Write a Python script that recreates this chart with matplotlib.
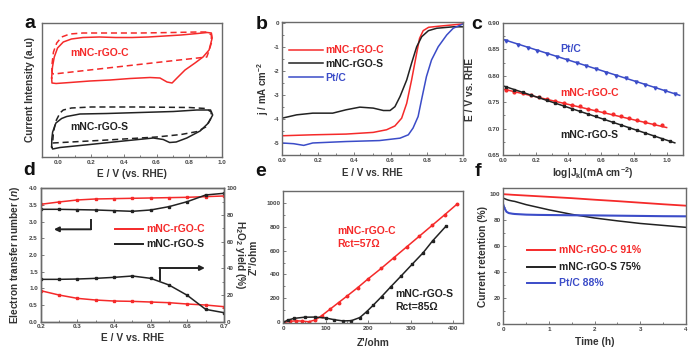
import matplotlib
matplotlib.use('Agg')
import matplotlib.pyplot as plt
from matplotlib.ticker import MultipleLocator, FormatStrFormatter

plt.rcParams['font.family'] = ['Liberation Sans', 'DejaVu Sans']
plt.rcParams['font.weight'] = 'bold'
plt.rcParams['axes.unicode_minus'] = False
plt.rcParams['mathtext.fontset'] = 'custom'
plt.rcParams['mathtext.rm'] = 'Liberation Sans:bold'
plt.rcParams['mathtext.it'] = 'Liberation Sans:bold:italic'
plt.rcParams['mathtext.bf'] = 'Liberation Sans:bold'
plt.rcParams['mathtext.default'] = 'rm'

RED = '#F52A2A'
BLK = '#222222'
BLU = '#3B4CC8'
SPINE = '#6a6a6a'
TICKC = '#444444'

# ---------------- data ----------------
# (a) CV loops, arbitrary current units
cv_c_solid_E = [-0.041, -0.036, -0.025, -0.005, 0.03, 0.08, 0.15, 0.25, 0.35, 0.45, 0.55, 0.65, 0.75, 0.85, 0.91, 0.935, 0.94,
                0.921, 0.884, 0.835, 0.774, 0.725, 0.695, 0.664, 0.621, 0.56, 0.438, 0.316, 0.193, 0.071, -0.014, -0.039, -0.041]
cv_c_solid_I = [7.9, 9.0, 10.0, 10.9, 11.5, 11.8, 11.95, 12.0, 11.95, 11.95, 12.0, 12.1, 12.2, 12.35, 12.45, 12.4, 11.9,
                10.7, 10.0, 9.4, 8.7, 7.9, 7.4, 7.5, 7.9, 7.95, 7.85, 7.7, 7.6, 7.45, 7.35, 7.4, 7.9]
cv_c_dash_E = [-0.035, -0.04, -0.038, -0.03, -0.01, 0.02, 0.07, 0.15, 0.3, 0.5, 0.7, 0.85, 0.91, 0.935, 0.935, 0.92, 0.907,
               0.6, 0.3, 0.0, -0.035]
cv_c_dash_I = [8.3, 8.6, 9.4, 10.5, 11.4, 12.0, 12.3, 12.4, 12.4, 12.4, 12.45, 12.5, 12.5, 12.2, 11.4, 10.6, 10.0,
               9.45, 8.9, 8.35, 8.3]
cv_s_solid_E = [-0.041, -0.04, -0.035, -0.015, 0.02, 0.051, 0.132, 0.296, 0.499, 0.703, 0.846, 0.93, 0.943, 0.917, 0.866,
                0.785, 0.72, 0.68, 0.641, 0.58, 0.397, 0.193, 0.01, -0.035, -0.041]
cv_s_solid_I = [1.0, 1.8, 2.5, 3.4, 3.85, 4.05, 4.3, 4.35, 4.45, 4.55, 4.7, 4.7, 4.2, 3.4, 2.6,
                1.9, 1.5, 1.45, 1.75, 1.9, 1.6, 1.25, 0.95, 0.8, 1.0]
cv_s_dash_E = [-0.035, 0.3, 0.6, 0.75, 0.85, 0.9, 0.93, 0.935, 0.9, 0.8, 0.5, 0.2, 0.08, 0.03, 0.01, -0.015, -0.03, -0.035]
cv_s_dash_I = [1.4, 1.7, 2.0, 2.25, 2.55, 3.0, 3.8, 4.5, 4.85, 4.95, 5.0, 5.0, 4.9, 4.7, 4.4, 3.6, 2.5, 1.4]

# (b) LSV
lsv_s_E = [0.0, 0.081, 0.17, 0.28, 0.354, 0.43, 0.504, 0.56, 0.597, 0.624, 0.652, 0.689, 0.716, 0.744, 0.772, 0.809, 0.855, 0.946, 1.0]
lsv_s_j = [-3.97, -3.83, -3.76, -3.76, -3.62, -3.51, -3.55, -3.65, -3.65, -3.49, -3.07, -2.38, -1.68, -1.0, -0.58, -0.33, -0.23, -0.17, -0.17]
lsv_c_E = [0.0, 0.17, 0.354, 0.504, 0.578, 0.624, 0.661, 0.689, 0.716, 0.744, 0.76, 0.78, 0.81, 0.873, 1.0]
lsv_c_j = [-4.70, -4.66, -4.63, -4.56, -4.45, -4.29, -3.97, -3.35, -2.38, -1.27, -0.65, -0.33, -0.19, -0.14, -0.05]
lsv_pt_E = [0.0, 0.064, 0.12, 0.17, 0.354, 0.538, 0.652, 0.698, 0.724, 0.752, 0.771, 0.798, 0.826, 0.863, 0.91, 0.946, 1.0]
lsv_pt_j = [-5.0, -5.03, -5.1, -5.0, -4.94, -4.9, -4.8, -4.66, -4.38, -3.9, -3.2, -2.24, -1.55, -1.0, -0.51, -0.23, -0.05]

# (c) Tafel
taf_pt_x = [0.02, 0.09, 0.15, 0.21, 0.27, 0.33, 0.39, 0.45, 0.51, 0.57, 0.63, 0.69, 0.75, 0.81, 0.87, 0.93, 0.99, 1.05]
taf_pt_y = [0.865, 0.859, 0.853, 0.847, 0.842, 0.835, 0.830, 0.824, 0.818, 0.812, 0.806, 0.800, 0.795, 0.789, 0.783, 0.777, 0.771, 0.765]
taf_pt_fit_x = [0.0, 1.08]
taf_pt_fit_y = [0.869, 0.763]
taf_c_x = [0.02, 0.07, 0.12, 0.17, 0.22, 0.27, 0.32, 0.37, 0.42, 0.47, 0.52, 0.57, 0.62, 0.67, 0.72, 0.77, 0.82, 0.87, 0.92, 0.97]
taf_c_y = [0.773, 0.770, 0.767, 0.763, 0.760, 0.756, 0.753, 0.749, 0.745, 0.742, 0.738, 0.735, 0.731, 0.727, 0.724, 0.720, 0.717, 0.713, 0.709, 0.706]
taf_c_fit_x = [0.0, 1.0]
taf_c_fit_y = [0.775, 0.702]
taf_s_x = [0.02, 0.07, 0.12, 0.17, 0.22, 0.27, 0.32, 0.37, 0.42, 0.47, 0.52, 0.57, 0.62, 0.67, 0.72, 0.77, 0.82, 0.87, 0.92, 0.97, 1.02]
taf_s_y = [0.779, 0.774, 0.769, 0.764, 0.759, 0.754, 0.749, 0.743, 0.738, 0.733, 0.728, 0.723, 0.718, 0.712, 0.707, 0.702, 0.697, 0.692, 0.686, 0.681, 0.676]
taf_s_fit_x = [0.0, 1.05]
taf_s_fit_y = [0.781, 0.673]

# (d) RRDE
rrde_E = [0.2, 0.25, 0.3, 0.35, 0.4, 0.45, 0.5, 0.55, 0.6, 0.65, 0.7]
n_c = [3.52, 3.59, 3.65, 3.68, 3.69, 3.70, 3.71, 3.72, 3.73, 3.75, 3.77]
n_s = [3.37, 3.37, 3.36, 3.35, 3.33, 3.31, 3.35, 3.45, 3.60, 3.80, 3.85]
h2o2_c = [23.25, 20.0, 17.5, 16.25, 15.5, 15.25, 14.75, 14.25, 13.25, 12.5, 11.25]
h2o2_s = [31.75, 31.75, 32.0, 32.5, 33.25, 34.25, 32.5, 27.5, 19.75, 9.25, 6.75]

# (e) Nyquist
eis_c_re = [0, 15, 30, 45, 60, 75, 90, 110, 130, 150, 175, 200, 230, 260, 290, 320, 350, 380, 409]
eis_c_im = [0, 8, 13, 10, 5, 20, 55, 110, 165, 220, 290, 365, 450, 540, 630, 720, 810, 900, 989]
eis_s_re = [0, 10, 25, 50, 75, 100, 120, 140, 160, 180, 196, 212, 231, 253, 277, 303, 329, 351, 383]
eis_s_im = [0, 18, 33, 43, 44, 36, 22, 12, 14, 40, 89, 145, 214, 298, 387, 485, 582, 680, 805]

# (f) stability
t_h = [0.0, 0.03, 0.07, 0.12, 0.2, 0.25, 0.5, 0.75, 1.0, 1.5, 2.0, 2.5, 3.0, 3.5, 4.0]
ret_c = [100.0, 100.0, 99.9, 99.8, 99.6, 99.5, 99.0, 98.5, 98.0, 97.0, 95.8, 94.7, 93.5, 92.3, 91.2]
ret_s = [97.0, 96.6, 96.0, 95.4, 94.8, 94.5, 92.0, 90.0, 88.0, 84.5, 81.7, 79.5, 77.5, 76.0, 74.5]
ret_pt = [92.0, 89.0, 86.5, 85.5, 85.0, 84.8, 84.3, 84.1, 84.0, 83.8, 83.7, 83.5, 83.3, 83.1, 83.0]

# ---------------- figure ----------------
fig = plt.figure(figsize=(7, 3.57), dpi=100)
LFS = 7.3


def style(ax):
    for s in ax.spines.values():
        s.set_color(SPINE)
        s.set_linewidth(1.0)
    ax.tick_params(which='both', direction='in', color=SPINE, labelcolor=TICKC,
                   labelsize=4.5, width=0.6, pad=2)
    ax.tick_params(which='major', length=2.5)
    ax.tick_params(which='minor', length=1.5)
    for lab in ax.get_xticklabels() + ax.get_yticklabels():
        lab.set_fontweight('bold')


def labels(ax, xl, yl, xy_x, xy_y, fs=LFS):
    ax.set_xlabel(xl, fontsize=fs, fontweight='bold', color='#333333')
    ax.set_ylabel(yl, fontsize=fs, fontweight='bold', color='#333333')
    ax.xaxis.label.set_va('center')
    ax.yaxis.label.set_va('center')
    ax.xaxis.set_label_coords(0.5, xy_x)
    ax.yaxis.set_label_coords(xy_y, 0.5)


def ax_at(x0, y0, x1, y1):
    return fig.add_axes([x0 / 700, 1 - y1 / 357, (x1 - x0) / 700, (y1 - y0) / 357])


lw = 1.1
# (a)
axa = ax_at(42, 23, 222, 157)
axa.plot(cv_c_solid_E, cv_c_solid_I, color=RED, lw=lw)
axa.plot(cv_c_dash_E, cv_c_dash_I, color=RED, lw=lw, ls=(0, (4, 2.5)))
axa.plot(cv_s_solid_E, cv_s_solid_I, color=BLK, lw=lw)
axa.plot(cv_s_dash_E, cv_s_dash_I, color=BLK, lw=lw, ls=(0, (4, 2.5)))
axa.set_xlim(-0.1, 1.0)
axa.set_ylim(0, 13.4)
axa.set_yticks([])
axa.xaxis.set_major_locator(MultipleLocator(0.2))
axa.xaxis.set_minor_locator(MultipleLocator(0.1))
axa.xaxis.set_major_formatter(FormatStrFormatter('%.1f'))
axa.text(0.07, 10.4, 'mNC-rGO-C', color=RED, fontsize=7.5, fontweight='bold', va='center')
axa.text(0.07, 3.0, 'mNC-rGO-S', color=BLK, fontsize=7.5, fontweight='bold', va='center')
style(axa)
labels(axa, 'E / V (vs. RHE)', 'Current Intensity (a.u)', -0.13, -0.067)

# (b)
axb = ax_at(282, 22, 463, 155)
axb.plot(lsv_c_E, lsv_c_j, color=RED, lw=lw, label='mNC-rGO-C')
axb.plot(lsv_s_E, lsv_s_j, color=BLK, lw=lw, label='mNC-rGO-S')
axb.plot(lsv_pt_E, lsv_pt_j, color=BLU, lw=lw, label='Pt/C')
axb.set_xlim(0, 1.0)
axb.set_ylim(-5.5, 0.03)
axb.xaxis.set_major_locator(MultipleLocator(0.2))
axb.xaxis.set_minor_locator(MultipleLocator(0.1))
axb.xaxis.set_major_formatter(FormatStrFormatter('%.1f'))
axb.yaxis.set_major_locator(MultipleLocator(1))
axb.yaxis.set_minor_locator(MultipleLocator(0.5))
leg = axb.legend(loc='upper left', bbox_to_anchor=(0.0, 0.88), frameon=False, fontsize=7.5,
                 handlelength=3.2, handletextpad=0.3, labelspacing=0.35, borderaxespad=0.3)
for t, c in zip(leg.get_texts(), [RED, BLK, BLU]):
    t.set_color(c)
    t.set_fontweight('bold')
style(axb)
labels(axb, 'E / V vs. RHE', 'j / mA cm$^{-2}$', -0.135, -0.105, fs=7.0)

# (c)
axc = ax_at(503, 23, 683, 155)
axc.plot(taf_pt_fit_x, taf_pt_fit_y, color=BLU, lw=lw)
axc.plot(taf_pt_x, taf_pt_y, 'v', color=BLU, ms=2.2)
axc.plot(taf_c_fit_x, taf_c_fit_y, color=RED, lw=lw)
axc.plot(taf_c_x, taf_c_y, 'o', color=RED, ms=2.0)
axc.plot(taf_s_fit_x, taf_s_fit_y, color=BLK, lw=lw)
axc.plot(taf_s_x, taf_s_y, 's', color=BLK, ms=1.8)
axc.set_xlim(0, 1.1)
axc.set_ylim(0.65, 0.90)
axc.xaxis.set_major_locator(MultipleLocator(0.2))
axc.xaxis.set_minor_locator(MultipleLocator(0.1))
axc.xaxis.set_major_formatter(FormatStrFormatter('%.1f'))
axc.yaxis.set_major_locator(MultipleLocator(0.05))
axc.yaxis.set_minor_locator(MultipleLocator(0.025))
axc.yaxis.set_major_formatter(FormatStrFormatter('%.2f'))
axc.text(0.35, 0.851, 'Pt/C', color=BLU, fontsize=7.5, fontweight='bold', va='center')
axc.text(0.35, 0.767, 'mNC-rGO-C', color=RED, fontsize=7.5, fontweight='bold', va='center')
axc.text(0.35, 0.688, 'mNC-rGO-S', color=BLK, fontsize=7.5, fontweight='bold', va='center')
style(axc)
labels(axc, 'log|J$_k$|(mA cm$^{-2}$)', 'E / V vs. RHE', -0.14, -0.183)

# (d)
axd = ax_at(40.7, 188.3, 224, 321.7)
axd.plot(rrde_E, n_c, color=RED, lw=lw, marker='s', ms=2.0)
axd.plot(rrde_E, n_s, color=BLK, lw=lw, marker='s', ms=2.0)
axd.set_xlim(0.2, 0.7)
axd.set_ylim(0, 4.0)
axd.xaxis.set_major_locator(MultipleLocator(0.1))
axd.xaxis.set_minor_locator(MultipleLocator(0.05))
axd.xaxis.set_major_formatter(FormatStrFormatter('%.1f'))
axd.yaxis.set_major_locator(MultipleLocator(0.5))
axd.yaxis.set_major_formatter(FormatStrFormatter('%.1f'))
axd2 = axd.twinx()
axd2.plot(rrde_E, h2o2_c, color=RED, lw=lw, marker='s', ms=2.0)
axd2.plot(rrde_E, h2o2_s, color=BLK, lw=lw, marker='s', ms=2.0)
axd2.set_ylim(0, 100)
axd2.yaxis.set_major_locator(MultipleLocator(20))
axd2.yaxis.set_minor_locator(MultipleLocator(10))
# arrows
axd.plot([0.336, 0.336], [3.05, 2.77], color=BLK, lw=1.4)
axd.annotate('', xy=(0.236, 2.77), xytext=(0.337, 2.77),
             arrowprops=dict(arrowstyle='-|>', color=BLK, lw=1.4, mutation_scale=7, shrinkA=0, shrinkB=0))
axd.plot([0.525, 0.525], [1.25, 1.61], color=BLK, lw=1.4)
axd.annotate('', xy=(0.648, 1.61), xytext=(0.524, 1.61),
             arrowprops=dict(arrowstyle='-|>', color=BLK, lw=1.4, mutation_scale=7, shrinkA=0, shrinkB=0))
# legend-like
axd.plot([0.403, 0.48], [2.78, 2.78], color=RED, lw=1.4)
axd.plot([0.403, 0.48], [2.33, 2.33], color=BLK, lw=1.4)
axd.text(0.489, 2.78, 'mNC-rGO-C', color=RED, fontsize=7.5, fontweight='bold', va='center')
axd.text(0.489, 2.33, 'mNC-rGO-S', color=BLK, fontsize=7.5, fontweight='bold', va='center')
style(axd)
style(axd2)
labels(axd, 'E / V vs. RHE', 'Electron transfer number ($\\mathit{n}$)', -0.125, -0.14)
axd2.set_ylabel('H$_2$O$_2$ yield (%)', fontsize=LFS, fontweight='bold', color='#333333', rotation=270)
axd2.yaxis.label.set_va('center')
axd2.yaxis.set_label_coords(1.085, 0.5)

# (e)
axe = ax_at(283.3, 190.7, 462.7, 323.3)
axe.plot(eis_c_re, eis_c_im, color=RED, lw=lw, marker='o', ms=1.8)
axe.plot(eis_s_re, eis_s_im, color=BLK, lw=lw, marker='s', ms=1.6)
axe.set_xlim(0, 422)
axe.set_ylim(-8, 1100)
axe.xaxis.set_major_locator(MultipleLocator(100))
axe.xaxis.set_minor_locator(MultipleLocator(50))
axe.yaxis.set_major_locator(MultipleLocator(200))
axe.yaxis.set_minor_locator(MultipleLocator(100))
axe.text(126, 805, 'mNC-rGO-C\nRct=57\u03a9', color=RED, fontsize=7.5, fontweight='bold',
         va='top', linespacing=1.35)
axe.text(263, 275, 'mNC-rGO-S\nRct=85\u03a9', color=BLK, fontsize=7.5, fontweight='bold',
         va='top', linespacing=1.35)
style(axe)
labels(axe, "Z'/ohm", "Z''/ohm", -0.15, -0.165)

# (f)
axf = ax_at(503.3, 188.3, 686, 324)
axf.plot(t_h, ret_c, color=RED, lw=1.3)
axf.plot(t_h, ret_s, color=BLK, lw=1.1)
axf.plot(t_h, ret_pt, color=BLU, lw=1.5)
axf.set_xlim(0, 4)
axf.set_ylim(0, 104.6)
axf.xaxis.set_major_locator(MultipleLocator(1))
axf.xaxis.set_minor_locator(MultipleLocator(0.5))
axf.yaxis.set_major_locator(MultipleLocator(20))
axf.yaxis.set_minor_locator(MultipleLocator(10))
for yv, c, s in [(57, RED, 'mNC-rGO-C 91%'), (44.2, BLK, 'mNC-rGO-S 75%'), (31.4, BLU, 'Pt/C 88%')]:
    axf.plot([0.51, 1.13], [yv, yv], color=c, lw=1.4)
    axf.text(1.23, yv, s, color=c, fontsize=7.5, fontweight='bold', va='center')
style(axf)
labels(axf, 'Time (h)', 'Current retention (%)', -0.13, -0.11)

# panel letters
for s, x, y in [('a', 30, 28), ('b', 262, 29), ('c', 477, 29), ('d', 29, 175), ('e', 261, 176.5), ('f', 478, 176.5)]:
    fig.text(x / 700, 1 - y / 357, s, fontsize=14, fontweight='bold', ha='center', va='baseline', color='#111111')

fig.savefig('out.png', dpi=100)
